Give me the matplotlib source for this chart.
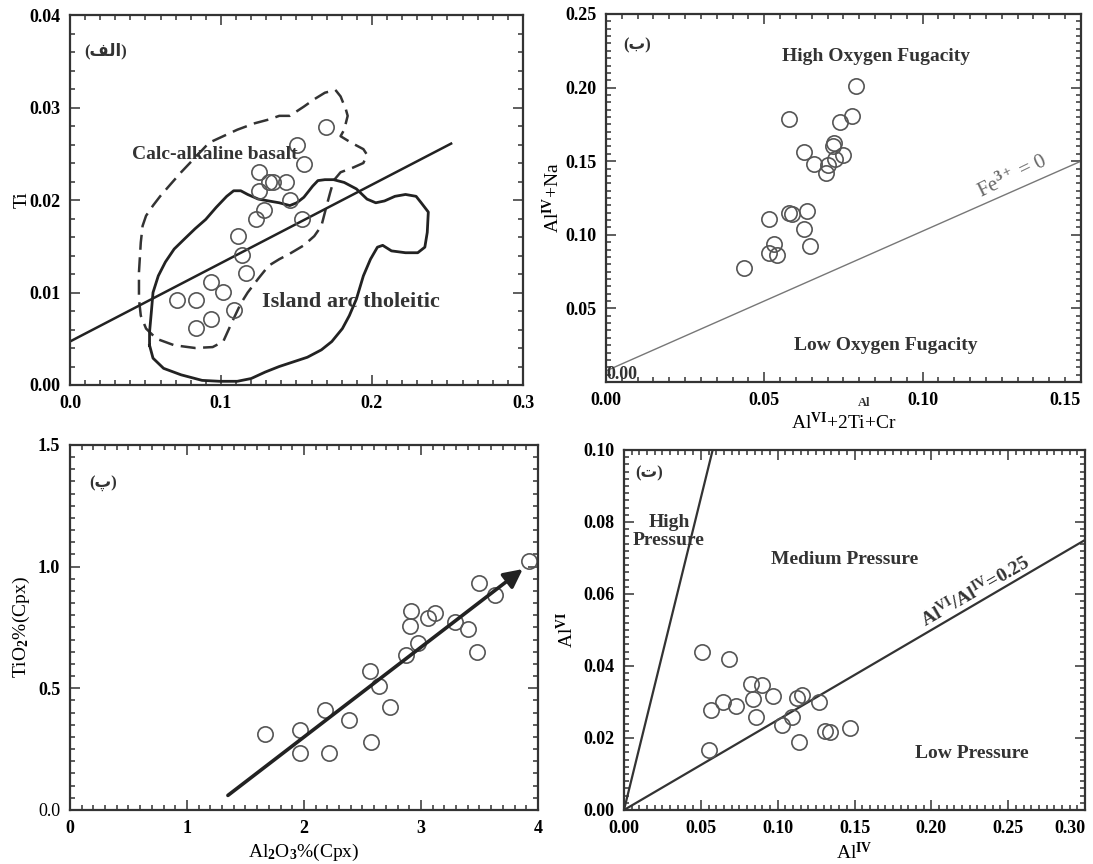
import matplotlib
matplotlib.use("Agg")
import matplotlib.pyplot as plt
from matplotlib.ticker import MultipleLocator, FormatStrFormatter

plt.rcParams['font.family'] = ['Liberation Serif', 'DejaVu Sans']
plt.rcParams['font.weight'] = 'bold'
plt.rcParams['mathtext.fontset'] = 'custom'
plt.rcParams['mathtext.rm'] = 'Liberation Serif:bold'
plt.rcParams['mathtext.bf'] = 'Liberation Serif:bold'
plt.rcParams['mathtext.it'] = 'Liberation Serif:bold:italic'

# panel labels (Persian, written in shaped presentation forms, visual order)
label_a = "(\uFED2\uFEDF\uFE8D)"   # الف
label_b = "(\uFE8F)"               # ب
label_c = "(\uFB56)"               # پ
label_d = "(\uFE95)"               # ت

# --- panel a: Ti vs Al(z) ---
a_x = [0.0708, 0.0834, 0.0834, 0.0933, 0.0933, 0.1015, 0.1089, 0.1168, 0.1142, 0.1112, 0.1235,
       0.1282, 0.1251, 0.1251, 0.1321, 0.1345, 0.1428, 0.1460, 0.1502, 0.1553, 0.1539, 0.1693]
a_y = [0.0092, 0.0092, 0.0062, 0.0071, 0.0111, 0.0101, 0.0081, 0.0121, 0.0141, 0.0161, 0.0179,
       0.0189, 0.0210, 0.0230, 0.0220, 0.0220, 0.0220, 0.0200, 0.0260, 0.0239, 0.0180, 0.0279]
a_line_x = [0.0, 0.2524]
a_line_y = [0.0047, 0.0261]
calc_x = [0.1758, 0.1792, 0.1827, 0.1839, 0.1816, 0.1792, 0.1862, 0.1943, 0.1967, 0.1943, 0.1874,
          0.1792, 0.1746, 0.1723, 0.1700, 0.1665, 0.1618, 0.1549, 0.1456, 0.1386, 0.1316, 0.1247,
          0.1177, 0.1131, 0.1073, 0.1015, 0.0945, 0.0829, 0.0690, 0.0573, 0.0504, 0.0469, 0.0457,
          0.0457, 0.0469, 0.0481, 0.0504, 0.0550, 0.0597, 0.0666, 0.0736, 0.0829, 0.0922, 0.1015,
          0.1108, 0.1224, 0.1316, 0.1386, 0.1456, 0.1549, 0.1618, 0.1688, 0.1758]
calc_y = [0.0319, 0.0312, 0.0298, 0.0291, 0.0276, 0.0269, 0.0262, 0.0255, 0.0249, 0.0240, 0.0235,
          0.0230, 0.0221, 0.0208, 0.0194, 0.0172, 0.0161, 0.0151, 0.0142, 0.0136, 0.0129, 0.0115,
          0.0100, 0.0088, 0.0068, 0.0047, 0.0041, 0.0040, 0.0043, 0.0050, 0.0061, 0.0075, 0.0093,
          0.0122, 0.0154, 0.0172, 0.0183, 0.0194, 0.0204, 0.0217, 0.0230, 0.0246, 0.0262, 0.0269,
          0.0276, 0.0283, 0.0287, 0.0291, 0.0291, 0.0301, 0.0309, 0.0316, 0.0319]
iat_x = [0.0527, 0.0550, 0.0620, 0.0736, 0.0875, 0.0991, 0.1108, 0.1200, 0.1293, 0.1386, 0.1479,
         0.1572, 0.1665, 0.1734, 0.1804, 0.1850, 0.1897, 0.1943, 0.1990, 0.2036, 0.2071, 0.2129,
         0.2222, 0.2303, 0.2350, 0.2366, 0.2373, 0.2326, 0.2292, 0.2222, 0.2152, 0.2083, 0.2025,
         0.1967, 0.1897, 0.1816, 0.1746, 0.1688, 0.1642, 0.1607, 0.1583, 0.1549, 0.1502, 0.1456,
         0.1386, 0.1316, 0.1247, 0.1177, 0.1131, 0.1084, 0.1038, 0.0968, 0.0899, 0.0829, 0.0759,
         0.0690, 0.0632, 0.0585, 0.0550, 0.0539, 0.0527, 0.0527]
iat_y = [0.0043, 0.0029, 0.0018, 0.0011, 0.0005, 0.0004, 0.0004, 0.0007, 0.0014, 0.0020, 0.0025,
         0.0030, 0.0038, 0.0047, 0.0061, 0.0075, 0.0093, 0.0118, 0.0136, 0.0149, 0.0151, 0.0145,
         0.0143, 0.0143, 0.0149, 0.0165, 0.0187, 0.0197, 0.0204, 0.0206, 0.0204, 0.0199, 0.0197,
         0.0201, 0.0212, 0.0219, 0.0222, 0.0222, 0.0221, 0.0215, 0.0210, 0.0203, 0.0197, 0.0194,
         0.0197, 0.0199, 0.0201, 0.0206, 0.0210, 0.0210, 0.0204, 0.0192, 0.0179, 0.0169, 0.0158,
         0.0147, 0.0133, 0.0118, 0.0100, 0.0079, 0.0057, 0.0043]

# --- panel b: AlIV+Na vs AlVI+2Ti+Cr ---
b_x = [0.0436, 0.0516, 0.0531, 0.0541, 0.0516, 0.0578, 0.0588, 0.0626, 0.0636, 0.0645, 0.0578,
       0.0626, 0.0658, 0.0694, 0.0700, 0.0722, 0.0719, 0.0716, 0.0750, 0.0738, 0.0776, 0.0789]
b_y = [0.0773, 0.0878, 0.0935, 0.0860, 0.1104, 0.1149, 0.1144, 0.1036, 0.1160, 0.0923, 0.1786,
       0.1565, 0.1482, 0.1419, 0.1475, 0.1514, 0.1622, 0.1606, 0.1543, 0.1764, 0.1806, 0.2011]
fe_line_x = [0.0, 0.15]
fe_line_y = [0.0075, 0.150]

# --- panel c: TiO2 vs Al2O3 ---
c_x = [1.663, 1.963, 1.963, 2.181, 2.211, 2.382, 2.577, 2.568, 2.643, 2.733, 2.876,
       2.906, 2.912, 2.972, 3.062, 3.116, 3.287, 3.401, 3.500, 3.482, 3.631, 3.925]
c_y = [0.312, 0.329, 0.233, 0.411, 0.236, 0.370, 0.281, 0.573, 0.510, 0.422, 0.637,
       0.756, 0.818, 0.688, 0.790, 0.811, 0.774, 0.742, 0.932, 0.651, 0.884, 1.023]
arrow_x = [1.35, 3.87]
arrow_y = [0.06, 0.99]

# --- panel d: AlVI vs AlIV ---
d_x = [0.0505, 0.0682, 0.0555, 0.0568, 0.0645, 0.0732, 0.0827, 0.0895, 0.0841, 0.0857,
       0.0970, 0.1027, 0.1095, 0.1123, 0.1159, 0.1141, 0.1266, 0.1305, 0.1341, 0.1470]
d_y = [0.0440, 0.0419, 0.0167, 0.0279, 0.0300, 0.0288, 0.0349, 0.0347, 0.0309, 0.0258,
       0.0316, 0.0237, 0.0258, 0.0310, 0.0319, 0.0189, 0.0300, 0.0219, 0.0217, 0.0228]
high_line_x = [0.0, 0.0577]
high_line_y = [0.0, 0.10]
ratio_line_x = [0.0, 0.30]
ratio_line_y = [0.0, 0.075]

fig = plt.figure(figsize=(10.93, 8.64), dpi=100)
ax_a = fig.add_axes([0.0640, 0.5544, 0.4145, 0.4282])
ax_b = fig.add_axes([0.5544, 0.5579, 0.4346, 0.4259])
ax_c = fig.add_axes([0.0640, 0.0625, 0.4282, 0.4225])
ax_d = fig.add_axes([0.5709, 0.0625, 0.4218, 0.4167])

circ = dict(ls='none', marker='o', mfc='none', mec='#555555', ms=11, mew=1.2)


def style(ax, xlim, ylim, xmaj, xmin, ymaj, ymin, xfmt, yfmt):
    ax.set_xlim(*xlim)
    ax.set_ylim(*ylim)
    ax.xaxis.set_major_locator(MultipleLocator(xmaj))
    ax.xaxis.set_minor_locator(MultipleLocator(xmin))
    ax.yaxis.set_major_locator(MultipleLocator(ymaj))
    ax.yaxis.set_minor_locator(MultipleLocator(ymin))
    ax.xaxis.set_major_formatter(FormatStrFormatter(xfmt))
    ax.yaxis.set_major_formatter(FormatStrFormatter(yfmt))
    ax.tick_params(which='both', direction='in', top=True, right=True, width=1.1,
                   color='#333333', labelsize=13)
    ax.tick_params(which='major', length=7, pad=7)
    ax.tick_params(which='minor', length=3.5)
    for s in ax.spines.values():
        s.set_linewidth(1.6)
        s.set_color('#333333')


# (a)
style(ax_a, (0, 0.3), (0, 0.04), 0.1, 0.01, 0.01, 0.002, '%.1f', '%.2f')
ax_a.plot(calc_x, calc_y, color='#333333', lw=1.8, ls=(0, (6, 3)))
ax_a.plot(iat_x, iat_y, color='#222222', lw=2.0)
ax_a.plot(a_line_x, a_line_y, color='#222222', lw=1.8)
ax_a.plot(a_x, a_y, **circ)
ax_a.set_ylabel('Ti', fontsize=14, labelpad=-1)
ax_a.text(0.0237, 0.0361, label_a, fontsize=12, ha='center', va='center', color='#333333')
ax_a.text(0.041, 0.0249, 'Calc-alkaline basalt', fontsize=14, ha='left', va='center', color='#333333')
ax_a.text(0.127, 0.0090, 'Island arc tholeitic', fontsize=16, ha='left', va='center', color='#333333')

# (b)
style(ax_b, (0, 0.15), (0, 0.25), 0.05, 0.005, 0.05, 0.005, '%.2f', '%.2f')
ax_b.plot(fe_line_x, fe_line_y, color='#777777', lw=1.0)
ax_b.plot(b_x, b_y, **circ)
ax_b.set_yticks([0.05, 0.10, 0.15, 0.20, 0.25])
ax_b.text(0.0, 0.02, '0.00', transform=ax_b.transAxes, fontsize=13, ha='left', va='center',
          color='#333333')
ax_b.set_ylabel(r'Al$^{\rm IV}$+Na', fontsize=14, labelpad=1)
ax_b.set_xlabel(r'Al$^{\rm VI}$+2Ti+Cr', fontsize=14, labelpad=2)
fig.text(0.791, 0.5336, 'Al', fontsize=9, ha='center', va='center', color='#333333')
ax_b.text(0.0099, 0.2286, label_b, fontsize=12, ha='center', va='center', color='#333333')
ax_b.text(0.0853, 0.2212, 'High Oxygen Fugacity', fontsize=14, ha='center', va='center',
          color='#333333')
ax_b.text(0.0883, 0.0248, 'Low Oxygen Fugacity', fontsize=14, ha='center', va='center',
          color='#333333')
ax_b.text(0.1284, 0.1396, r'Fe$^{3+}$ = 0', fontsize=15, ha='center', va='center',
          rotation=26, color='#666666', fontweight='normal')

# (c)
style(ax_c, (0, 4), (0, 1.5), 1, 0.1, 0.5, 0.05, '%d', '%.1f')
ax_c.plot(c_x, c_y, **circ)
ax_c.annotate('', xy=(arrow_x[1], arrow_y[1]), xytext=(arrow_x[0], arrow_y[0]),
              arrowprops=dict(arrowstyle='-|>', lw=2.6, color='#222222', mutation_scale=28,
                              shrinkA=0, shrinkB=0))
ax_c.set_ylabel(r'TiO$_2$%(Cpx)', fontsize=14)
ax_c.set_xlabel(r'Al$_2$O$_3$%(Cpx)', fontsize=14, labelpad=4)
ax_c.text(0.285, 1.342, label_c, fontsize=12, ha='center', va='center', color='#333333')

# (d)
style(ax_d, (0, 0.30), (0, 0.10), 0.05, 0.005, 0.02, 0.002, '%.2f', '%.2f')
ax_d.plot(high_line_x, high_line_y, color='#333333', lw=1.6)
ax_d.plot(ratio_line_x, ratio_line_y, color='#333333', lw=1.6)
ax_d.plot(d_x, d_y, **circ)
ax_d.set_ylabel(r'Al$^{\rm VI}$', fontsize=14)
ax_d.set_xlabel(r'Al$^{\rm IV}$', fontsize=14, labelpad=4)
ax_d.text(0.0164, 0.0935, label_d, fontsize=12, ha='center', va='center', color='#333333')
ax_d.text(0.0293, 0.0773, 'High\nPressure', fontsize=14, ha='center', va='center',
          color='#333333', linespacing=1.1)
ax_d.text(0.1436, 0.0695, 'Medium Pressure', fontsize=14, ha='center', va='center',
          color='#333333')
ax_d.text(0.2266, 0.0158, 'Low Pressure', fontsize=14, ha='center', va='center', color='#333333')
ax_d.text(0.2289, 0.0609, r'Al$^{\rm VI}$/Al$^{\rm IV}$=0.25', fontsize=14, ha='center',
          va='center', rotation=30, color='#333333')

# small tweaks to individual tick labels
fig.canvas.draw()
for lbl in ax_c.get_yticklabels():
    if lbl.get_text() == '0.0':
        lbl.set_fontweight('normal')
for ax, last in [(ax_b, '0.15'), (ax_d, '0.30')]:
    for lbl in ax.get_xticklabels():
        if lbl.get_text() == last:
            lbl.set_horizontalalignment('right')

fig.savefig('out.png', dpi=100)
